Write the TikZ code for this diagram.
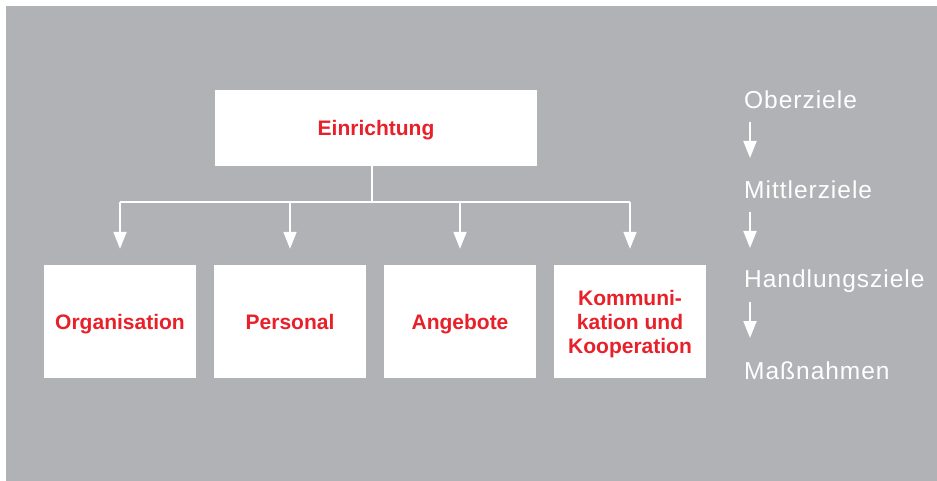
\documentclass[tikz,border=0pt]{standalone}
\usepackage{fontspec}
\setmainfont{Liberation Sans}
\newfontfamily\lvlfont[LetterSpace=4]{Liberation Sans}
\usetikzlibrary{arrows.meta}
\definecolor{bggray}{HTML}{B1B2B5}
\definecolor{boxred}{HTML}{E8202A}
\tikzset{
  box/.style={fill=white, draw=none, inner sep=0pt, align=center, text depth=0pt,
    font=\fontsize{21}{24}\selectfont\bfseries, text=boxred},
  topbox/.style={box, minimum width=322pt, minimum height=76pt},
  subbox/.style={box, minimum width=152pt, minimum height=113pt},
  lvl/.style={anchor=west, inner sep=0pt, text=white, font=\lvlfont\fontsize{24.5}{28}\selectfont},
  conn/.style={draw=white, line width=2pt},
  arr/.style={conn, -{Triangle[width=13pt,length=17pt]}},
}
\begin{document}
\begin{tikzpicture}[x=1pt,y=-1pt]
\useasboundingbox (0,0) rectangle (937,481);
\fill[bggray] (6,6) rectangle (937,481);
\node[topbox] (top) at (376,128) {Einrichtung};
\node[subbox] (s1) at (120,321.5) {Organisation};
\node[subbox] (s2) at (290,321.5) {Personal};
\node[subbox] (s3) at (460,321.5) {Angebote};
\node[subbox] (s4) at (630,321.5) {Kommuni-\\kation und\\Kooperation};
\coordinate (junc) at (372,202);
\coordinate (jl) at (120,202);
\coordinate (jr) at (630,202);
\draw[conn] (top.south -| junc) -- (junc);
\draw[conn] (jl) -- (jr);
\foreach \s in {s1,s2,s3,s4}
  \draw[arr, shorten >=16pt] (\s.north |- junc) -- (\s.north);
\node[lvl] (l1) at (744,100) {Oberziele};
\node[lvl] (l2) at (744,190) {Mittlerziele};
\node[lvl] (l3) at (744,281) {Handlungsziele};
\node[lvl] (l4) at (744,371) {Maßnahmen};
\coordinate (a1s) at (750,122); \coordinate (a1e) at (750,158);
\coordinate (a2s) at (750,212); \coordinate (a2e) at (750,248);
\coordinate (a3s) at (750,302); \coordinate (a3e) at (750,338);
\draw[arr] (a1s) -- (a1e);
\draw[arr] (a2s) -- (a2e);
\draw[arr] (a3s) -- (a3e);
\end{tikzpicture}
\end{document}
